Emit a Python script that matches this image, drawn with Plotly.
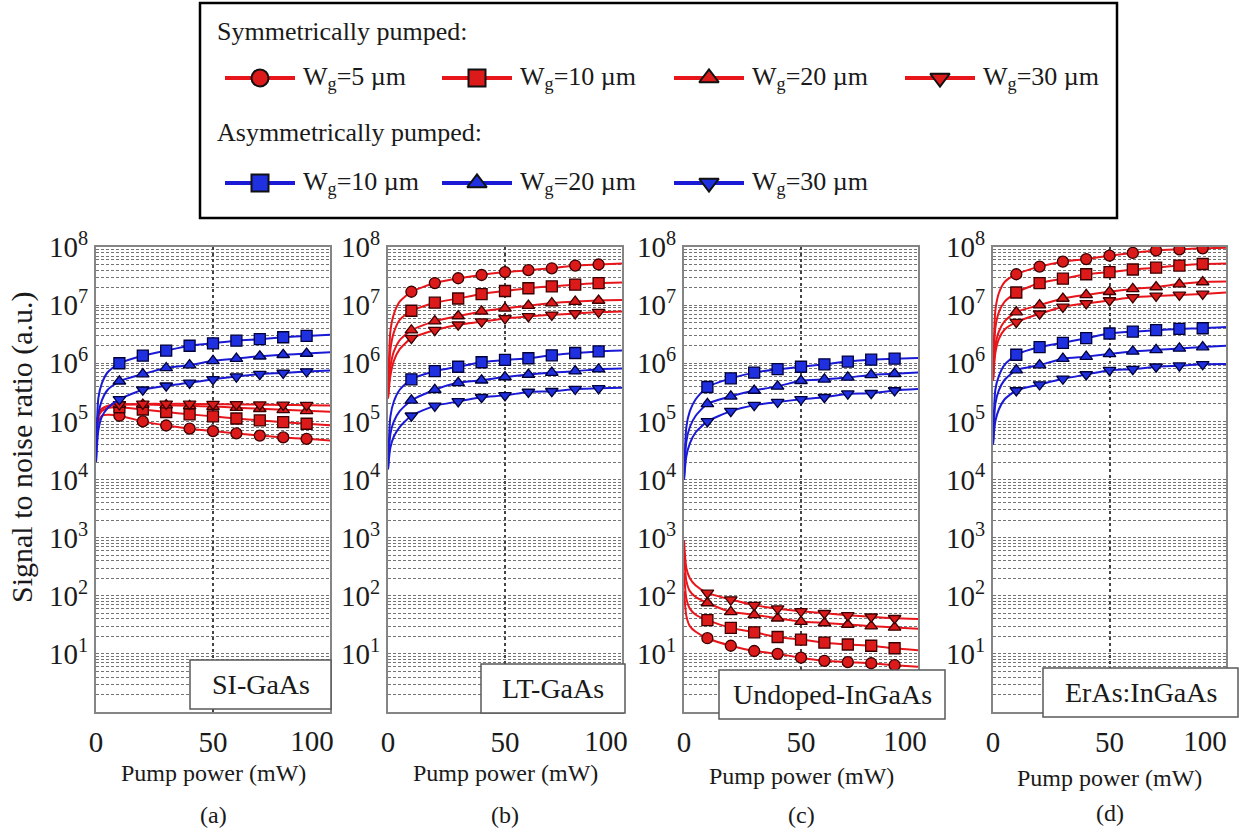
import plotly.graph_objects as go

W, H = 1239, 832
FONT = "Liberation Serif, Times New Roman, serif"
INK = "#1a1a1a"

# ---------------------------------------------------------------- data ----
pump_mw = [0, 1, 2.5, 5, 10, 20, 30, 40, 50, 60, 70, 80, 90, 100]
marker_mw = [10, 20, 30, 40, 50, 60, 70, 80, 90]

x_tick_vals = [0, 50]
x_tick_text = ["0", "50"]
x_end_tick_vals = [100]
x_end_tick_text = ["100"]
y_tick_vals = [1e1, 1e2, 1e3, 1e4, 1e5, 1e6, 1e7, 1e8]
y_tick_text = ["10<sup>1</sup>", "10<sup>2</sup>", "10<sup>3</sup>", "10<sup>4</sup>",
               "10<sup>5</sup>", "10<sup>6</sup>", "10<sup>7</sup>", "10<sup>8</sup>"]

panel_names = ["SI-GaAs", "LT-GaAs", "Undoped-InGaAs", "ErAs:InGaAs"]
panel_letters = ["(a)", "(b)", "(c)", "(d)"]

# (a) SI-GaAs
si_sym_5 = [6e4, 1.0e5, 1.25e5, 1.3e5, 1.25e5, 1.0e5, 8.5e4, 7.5e4, 6.8e4, 6.2e4, 5.7e4, 5.3e4, 5.0e4, 4.7e4]
si_sym_10 = [7e4, 1.2e5, 1.5e5, 1.7e5, 1.75e5, 1.6e5, 1.45e5, 1.32e5, 1.22e5, 1.12e5, 1.04e5, 9.7e4, 9.1e4, 8.6e4]
si_sym_20 = [7e4, 1.3e5, 1.65e5, 1.85e5, 1.95e5, 1.95e5, 1.9e5, 1.85e5, 1.8e5, 1.72e5, 1.65e5, 1.58e5, 1.52e5, 1.47e5]
si_sym_30 = [7e4, 1.3e5, 1.65e5, 1.85e5, 1.95e5, 2.0e5, 2.0e5, 2.0e5, 1.98e5, 1.96e5, 1.94e5, 1.92e5, 1.9e5, 1.88e5]
si_asym_10 = [2e4, 2.5e5, 4.5e5, 7e5, 1.0e6, 1.35e6, 1.65e6, 2.0e6, 2.2e6, 2.45e6, 2.6e6, 2.8e6, 2.95e6, 3.1e6]
si_asym_20 = [2e4, 1.3e5, 2.3e5, 3.5e5, 4.9e5, 6.5e5, 8.3e5, 9.3e5, 1.1e6, 1.2e6, 1.32e6, 1.4e6, 1.47e6, 1.55e6]
si_asym_30 = [2e4, 7e4, 1.2e5, 1.7e5, 2.4e5, 3.5e5, 4.1e5, 4.6e5, 5.3e5, 5.9e5, 6.5e5, 6.8e5, 7.2e5, 7.5e5]

# (b) LT-GaAs
lt_sym_5 = [2.5e5, 3.5e6, 7e6, 1.15e7, 1.7e7, 2.4e7, 2.9e7, 3.3e7, 3.7e7, 4.0e7, 4.3e7, 4.8e7, 5.0e7, 5.2e7]
lt_sym_10 = [2.5e5, 1.7e6, 3.4e6, 5.6e6, 8.0e6, 1.1e7, 1.3e7, 1.55e7, 1.75e7, 1.95e7, 2.1e7, 2.25e7, 2.4e7, 2.45e7]
lt_sym_20 = [2.5e5, 8.5e5, 1.6e6, 2.5e6, 3.7e6, 5.3e6, 6.5e6, 7.8e6, 8.8e6, 9.8e6, 1.08e7, 1.15e7, 1.2e7, 1.22e7]
lt_sym_30 = [2.5e5, 6e5, 1.1e6, 1.75e6, 2.7e6, 3.7e6, 4.6e6, 5.2e6, 5.9e6, 6.4e6, 6.8e6, 7.2e6, 7.6e6, 7.8e6]
lt_asym_10 = [1.5e4, 1.2e5, 2.2e5, 3.5e5, 5.3e5, 7.3e5, 8.7e5, 1.04e6, 1.14e6, 1.22e6, 1.37e6, 1.5e6, 1.6e6, 1.65e6]
lt_asym_20 = [1.5e4, 6e4, 1.0e5, 1.5e5, 2.3e5, 3.5e5, 4.6e5, 5.1e5, 5.8e5, 6.4e5, 6.9e5, 7.3e5, 7.9e5, 8.1e5]
lt_asym_30 = [1.5e4, 3.5e4, 5.5e4, 8e4, 1.25e5, 1.85e5, 2.2e5, 2.6e5, 2.8e5, 3.2e5, 3.3e5, 3.6e5, 3.7e5, 3.8e5]

# (c) Undoped-InGaAs
un_sym_5 = [120, 45, 30, 24, 18.6, 13.8, 11.2, 10, 8.6, 7.6, 7.2, 6.9, 6.4, 6.0]
un_sym_10 = [250, 90, 60, 47, 38, 28, 23.5, 19.5, 17.6, 15.6, 14.5, 13.8, 12.5, 11.6]
un_sym_20 = [500, 180, 120, 95, 75, 53, 47, 41, 36, 34, 32, 30, 28.5, 27]
un_sym_30 = [900, 300, 200, 150, 112, 86, 69, 60, 54, 50, 46, 43.5, 41, 40]
un_asym_10 = [1e4, 8e4, 1.5e5, 2.4e5, 3.9e5, 5.5e5, 6.9e5, 7.9e5, 8.7e5, 9.6e5, 1.07e6, 1.15e6, 1.2e6, 1.23e6]
un_asym_20 = [1e4, 4.5e4, 8e4, 1.25e5, 2.0e5, 2.7e5, 3.4e5, 4.0e5, 5.0e5, 5.3e5, 5.7e5, 6.3e5, 6.6e5, 6.9e5]
un_asym_30 = [1e4, 2.5e4, 4.2e4, 6.5e4, 1.0e5, 1.5e5, 1.9e5, 2.15e5, 2.4e5, 2.6e5, 3.0e5, 3.05e5, 3.4e5, 3.6e5]

# (d) ErAs:InGaAs
er_sym_5 = [5e5, 8e6, 1.6e7, 2.5e7, 3.4e7, 4.6e7, 5.6e7, 6.2e7, 7.1e7, 7.9e7, 8.7e7, 9.1e7, 9.5e7, 9.7e7]
er_sym_10 = [5e5, 4e6, 7.5e6, 1.15e7, 1.65e7, 2.4e7, 2.85e7, 3.4e7, 3.7e7, 4.1e7, 4.4e7, 4.8e7, 5.1e7, 5.2e7]
er_sym_20 = [5e5, 2e6, 3.5e6, 5.3e6, 7.6e6, 1.0e7, 1.3e7, 1.5e7, 1.7e7, 1.9e7, 2.05e7, 2.3e7, 2.5e7, 2.55e7]
er_sym_30 = [5e5, 1.5e6, 2.6e6, 3.8e6, 5.1e6, 7.1e6, 9.3e6, 1.07e7, 1.2e7, 1.36e7, 1.44e7, 1.5e7, 1.56e7, 1.65e7]
er_asym_10 = [4e4, 3.5e5, 6e5, 9.5e5, 1.4e6, 1.9e6, 2.25e6, 2.7e6, 3.25e6, 3.5e6, 3.7e6, 3.9e6, 4.0e6, 4.2e6]
er_asym_20 = [4e4, 2e5, 3.4e5, 5.2e5, 7.6e5, 9.3e5, 1.2e6, 1.3e6, 1.45e6, 1.6e6, 1.7e6, 1.8e6, 1.9e6, 2.0e6]
er_asym_30 = [4e4, 1.0e5, 1.6e5, 2.4e5, 3.4e5, 4.3e5, 5.4e5, 6.4e5, 7.6e5, 7.9e5, 8.7e5, 9.1e5, 9.6e5, 9.7e5]

panels = [
    {"sym": {5: si_sym_5, 10: si_sym_10, 20: si_sym_20, 30: si_sym_30},
     "asym": {10: si_asym_10, 20: si_asym_20, 30: si_asym_30}},
    {"sym": {5: lt_sym_5, 10: lt_sym_10, 20: lt_sym_20, 30: lt_sym_30},
     "asym": {10: lt_asym_10, 20: lt_asym_20, 30: lt_asym_30}},
    {"sym": {5: un_sym_5, 10: un_sym_10, 20: un_sym_20, 30: un_sym_30},
     "asym": {10: un_asym_10, 20: un_asym_20, 30: un_asym_30}},
    {"sym": {5: er_sym_5, 10: er_sym_10, 20: er_sym_20, 30: er_sym_30},
     "asym": {10: er_asym_10, 20: er_asym_20, 30: er_asym_30}},
]

# -------------------------------------------------------------- styling ----
SYMBOL = {5: "circle", 10: "square", 20: "triangle-up", 30: "triangle-down"}
STYLE = {
    "sym": dict(line="#e8151b", fill="#dc1a1a", edge="#3a0000"),
    "asym": dict(line="#1a1ad6", fill="#1f30e0", edge="#00003a"),
}

PANEL_LEFT = [96, 388, 684, 993]
PANEL_RIGHT = [330, 622, 918, 1226]
PLOT_TOP, PLOT_BOTTOM = 247, 712
XTITLE_Y = [773, 773, 776, 778]
LETTER_Y = [815, 815, 815, 813]
NAME_BOX = [(190, 660, 331, 709), (481, 664, 625, 713), (719, 670, 945, 719), (1043, 668, 1238, 717)]
END_LABEL_SHIFT = [-18, -16, -13, -21]

GRID = "#747474"
TICK_FONT = dict(family=FONT, size=29, color=INK)


def px(x):
    return x / W


def py(y):
    return 1 - y / H


def text_at(x, y, text, size, xanchor="center", **extra):
    return dict(x=px(x), y=py(y), xref="paper", yref="paper", text=text, showarrow=False,
                xanchor=xanchor, yanchor="middle", font=dict(family=FONT, size=size, color=INK),
                **extra)


fig = go.Figure()
annotations = []
shapes = []

for i, data in enumerate(panels):
    suffix = "" if i == 0 else str(i + 1)
    xa, ya = "x" + suffix, "y" + suffix
    for group in ("sym", "asym"):
        st = STYLE[group]
        for wg, vals in data[group].items():
            lookup = dict(zip(pump_mw, vals))
            fig.add_trace(go.Scatter(
                x=pump_mw, y=vals, mode="lines", xaxis=xa, yaxis=ya,
                line=dict(color=st["line"], width=2, shape="spline", smoothing=0.6),
                showlegend=False, hoverinfo="skip"))
            fig.add_trace(go.Scatter(
                x=marker_mw, y=[lookup[m] for m in marker_mw], mode="markers",
                xaxis=xa, yaxis=ya,
                marker=dict(symbol=SYMBOL[wg], size=11, color=st["fill"],
                            line=dict(color=st["edge"], width=1.3)),
                showlegend=False, name=f"Wg={wg} um"))

    fig.layout["xaxis" + suffix] = dict(
        domain=[px(PANEL_LEFT[i]), px(PANEL_RIGHT[i])], anchor=ya, range=[0, 100],
        tickmode="array", tickvals=x_tick_vals, ticktext=x_tick_text, automargin=False,
        showgrid=True, gridcolor="#444444", griddash="dot", gridwidth=1.5,
        zeroline=False, showline=True, mirror=True, linecolor="#858585", linewidth=2,
        ticks="outside", ticklen=3, tickcolor="rgba(0,0,0,0)", tickfont=TICK_FONT)

    # end-of-axis label, pulled inward so it stays inside the frame's right end
    end_axis = "x" + str(6 + i)
    fig.add_trace(go.Scatter(x=[], y=[], xaxis=end_axis, yaxis=ya, showlegend=False))
    fig.layout["xaxis" + str(6 + i)] = dict(
        overlaying=xa, anchor=ya, range=[0, 100], side="bottom",
        tickmode="array", tickvals=x_end_tick_vals, ticktext=x_end_tick_text,
        ticklabelshift=END_LABEL_SHIFT[i], ticklabeloverflow="allow", automargin=False,
        showgrid=False, zeroline=False, showline=False,
        ticks="outside", ticklen=3, tickcolor="rgba(0,0,0,0)", tickfont=TICK_FONT)

    fig.layout["yaxis" + suffix] = dict(
        domain=[py(PLOT_BOTTOM), py(PLOT_TOP)], anchor=xa, type="log", range=[0, 8],
        tickmode="array", tickvals=y_tick_vals, ticktext=y_tick_text, automargin=False,
        showgrid=True, gridcolor=GRID, griddash="3px,2px", gridwidth=1,
        minor=dict(dtick="D1", showgrid=True, gridcolor=GRID, griddash="3px,2px", gridwidth=1),
        zeroline=False, showline=True, mirror=True, linecolor="#858585", linewidth=2,
        ticks="", tickfont=TICK_FONT)

    cx = (PANEL_LEFT[i] + PANEL_RIGHT[i]) / 2
    annotations.append(text_at(cx, XTITLE_Y[i], "Pump power (mW)", 24))
    annotations.append(text_at(cx, LETTER_Y[i], panel_letters[i], 24))
    bx0, by0, bx1, by1 = NAME_BOX[i]
    shapes.append(dict(type="rect", xref="paper", yref="paper",
                       x0=px(bx0), x1=px(bx1), y0=py(by1), y1=py(by0),
                       fillcolor="white", line=dict(color="#5a5a5a", width=1.5)))
    annotations.append(text_at((bx0 + bx1) / 2, (by0 + by1) / 2, panel_names[i], 28))

annotations.append(text_at(22, 447, "Signal to noise ratio (a.u.)", 30, textangle=-90))

# ------------------------------------------------------------- legend -----
LEG_BOX = (200, 3, 1117, 218)
LEG_COLS = [225, 442, 674, 905]
LEG_ROWS = {"sym": 78, "asym": 183}
LEG_HEAD = {"sym": ("Symmetrically pumped:", 32), "asym": ("Asymmetrically pumped:", 132)}
KEY_LEN = 70

shapes.append(dict(type="rect", xref="paper", yref="paper",
                   x0=px(LEG_BOX[0]), x1=px(LEG_BOX[2]), y0=py(LEG_BOX[3]), y1=py(LEG_BOX[1]),
                   line=dict(color="#000000", width=2.5)))

for group in ("sym", "asym"):
    st = STYLE[group]
    head, hy = LEG_HEAD[group]
    annotations.append(text_at(215, hy, head, 26, xanchor="left"))
    ry = LEG_ROWS[group]
    for col, wg in enumerate(sorted(panels[0][group].keys())):
        x0 = LEG_COLS[col]
        fig.add_trace(go.Scatter(
            x=[x0, x0 + KEY_LEN], y=[ry, ry], mode="lines", xaxis="x5", yaxis="y5",
            line=dict(color=st["line"], width=4), showlegend=False, hoverinfo="skip"))
        fig.add_trace(go.Scatter(
            x=[x0 + KEY_LEN / 2], y=[ry], mode="markers", xaxis="x5", yaxis="y5",
            marker=dict(symbol=SYMBOL[wg], size=17, color=st["fill"],
                        line=dict(color="#111111", width=2)),
            showlegend=False, hoverinfo="skip"))
        annotations.append(text_at(x0 + KEY_LEN + 6, ry, f"W<sub>g</sub>={wg} µm", 26,
                                   xanchor="left"))

fig.layout["xaxis5"] = dict(domain=[0, 1], range=[0, W], visible=False, anchor="y5",
                            automargin=False)
fig.layout["yaxis5"] = dict(domain=[0, 1], range=[H, 0], visible=False, anchor="x5",
                            automargin=False)

fig.update_layout(
    width=W, height=H, autosize=False,
    margin=dict(l=0, r=0, t=0, b=0, pad=0, autoexpand=False),
    paper_bgcolor="white", plot_bgcolor="rgba(0,0,0,0)",
    showlegend=False, annotations=annotations, shapes=shapes,
    font=dict(family=FONT, color=INK),
)

fig.write_html("out.html")
